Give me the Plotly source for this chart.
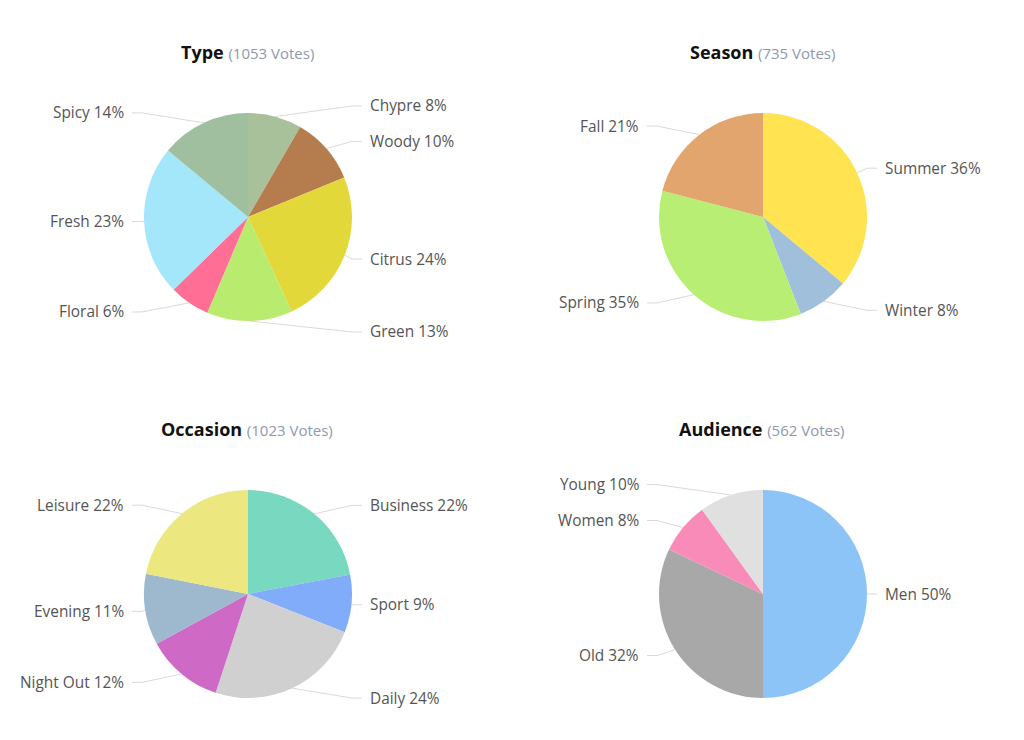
import math
import plotly.graph_objects as go

W, H = 1024, 740
PAGE_OFFSET = 8  # the html body margin shifts the figure by 8px

# ---- data (vote counts) ----
type_labels = ["Chypre", "Woody", "Citrus", "Green", "Floral", "Fresh", "Spicy"]
type_values = [88, 110, 256, 140, 66, 246, 147]
type_colors = ["#A9C19A", "#B57D4E", "#E2D83A", "#B8EB6E", "#FF6E94", "#A4E6FA", "#9FBF9F"]

season_labels = ["Summer", "Winter", "Spring", "Fall"]
season_values = [265, 59, 257, 154]
season_colors = ["#FFE350", "#A0BFDB", "#B8EE74", "#E2A56E"]

occasion_labels = ["Business", "Sport", "Daily", "Night Out", "Evening", "Leisure"]
occasion_values = [225, 92, 246, 123, 113, 224]
occasion_colors = ["#79D8C0", "#80ACF9", "#D0D0D0", "#CE6AC6", "#9EB8CD", "#ECE77F"]

audience_labels = ["Men", "Old", "Women", "Young"]
audience_values = [281, 180, 45, 56]
audience_colors = ["#8CC4F8", "#A8A8A8", "#F88BB8", "#E0E0E0"]

# (title, labels, values, colors, center x px, center y px)
charts = [
    ("Type", type_labels, type_values, type_colors, 248, 217),
    ("Season", season_labels, season_values, season_colors, 763, 217),
    ("Occasion", occasion_labels, occasion_values, occasion_colors, 248, 594),
    ("Audience", audience_labels, audience_values, audience_colors, 763, 594),
]

R = 104          # pie radius in px
LABEL_DX = 120   # label column offset from pie center
LABEL_K = 115    # vertical spread of labels
FONT = "Open Sans, Noto Sans, sans-serif"


def px(x):
    return (x - PAGE_OFFSET) / W


def py(y):
    return 1 - (y - PAGE_OFFSET) / H


fig = go.Figure()
annotations = []
shapes = []

for title, labels, values, colors, cx, cy in charts:
    total = sum(values)
    fig.add_trace(go.Pie(
        labels=labels,
        values=values,
        marker=dict(colors=colors, line=dict(width=0)),
        sort=False,
        direction="clockwise",
        rotation=0,
        textinfo="none",
        hovertemplate="%{label}: %{value} (%{percent})<extra></extra>",
        domain=dict(x=[px(cx - R), px(cx + R)], y=[py(cy + R), py(cy - R)]),
        showlegend=False,
    ))

    annotations.append(dict(
        x=px(cx - 1), y=py(cy - 165), xref="paper", yref="paper",
        text=f"<b>{title}</b> <span style='font-size:15px;color:#8E99AE'>({total} Votes)</span>",
        showarrow=False, xanchor="center", yanchor="middle",
        font=dict(family=FONT, size=18, color="#111111"),
    ))

    cum = 0
    for name, v in zip(labels, values):
        mid = (cum + v / 2) / total * 2 * math.pi
        cum += v
        ex = cx + R * math.sin(mid)
        ey = cy - R * math.cos(mid)
        ly = cy - LABEL_K * math.cos(mid)
        right = math.sin(mid) >= 0
        sgn = 1 if right else -1
        lx = cx + sgn * (LABEL_DX if right else LABEL_DX + 2)
        pct = round(100 * v / total)
        annotations.append(dict(
            x=px(lx), y=py(ly), xref="paper", yref="paper",
            text=f"{name} {pct}%", showarrow=False,
            xanchor="left" if right else "right", yanchor="middle",
            font=dict(family=FONT, size=15.4, color="#555555"),
        ))
        kx = lx - sgn * 16
        shapes.append(dict(type="line", xref="paper", yref="paper",
                           x0=px(ex), y0=py(ey), x1=px(kx), y1=py(ly),
                           line=dict(color="#DADADA", width=1)))
        shapes.append(dict(type="line", xref="paper", yref="paper",
                           x0=px(kx), y0=py(ly), x1=px(lx - sgn * 6), y1=py(ly),
                           line=dict(color="#DADADA", width=1)))

fig.update_layout(
    width=W, height=H,
    margin=dict(l=0, r=0, t=0, b=0),
    paper_bgcolor="white",
    plot_bgcolor="white",
    annotations=annotations,
    shapes=shapes,
    font=dict(family=FONT),
)

fig.write_html("out.html")
